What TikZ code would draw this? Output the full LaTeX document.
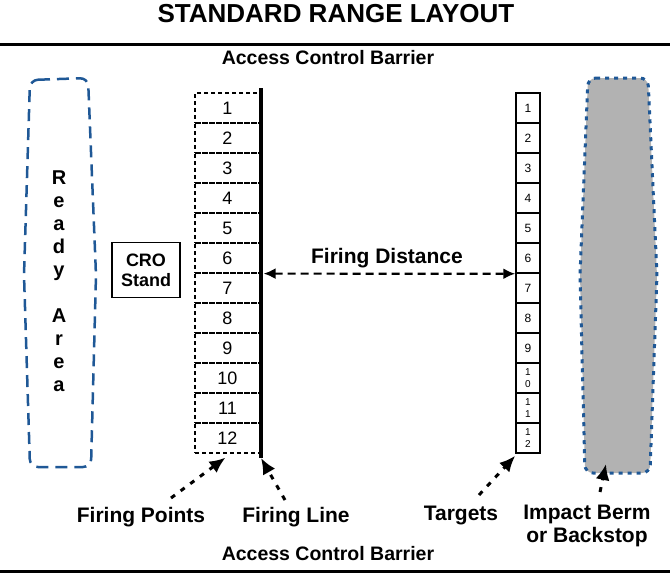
\documentclass[tikz,border=0pt]{standalone}
\usepackage{fontspec}
\setmainfont{Liberation Sans}
\usetikzlibrary{arrows.meta}
\definecolor{areablue}{RGB}{31,88,150}
\tikzset{
  fpbox/.style={draw, dash pattern=on 4pt off 3pt, line width=1.2pt, minimum width=65pt, minimum height=30pt, inner sep=0pt, font=\fontsize{18}{18}\selectfont},
  tgbox/.style={draw, line width=1.5pt, minimum width=24pt, minimum height=30pt, inner sep=0pt, font=\fontsize{12}{12}\selectfont},
  tgsmall/.style={tgbox, align=center, font=\fontsize{10}{11.5}\selectfont},
  labeltext/.style={font=\bfseries\fontsize{21}{23}\selectfont, align=center},
  barrier/.style={font=\bfseries\fontsize{19.5}{20}\selectfont},
  pointer/.style={line width=3pt, dash pattern=on 5pt off 7pt, -{Latex[length=16pt,width=14pt]}},
  distarrow/.style={line width=2.2pt, dash pattern=on 8pt off 5pt, {Latex[length=12pt,width=11pt]}-{Latex[length=12pt,width=11pt]}},
}

\begin{document}
\begin{tikzpicture}[x=1pt, y=-1pt]
    \useasboundingbox (0,0) rectangle (670,574);
    \node[font=\bfseries\fontsize{26}{26}\selectfont] (title) at (336,14){STANDARD RANGE LAYOUT};
    \draw[line width=3pt] (0,44) -- (670,44);
    \draw[line width=3pt] (0,571) -- (670,571);
    \node[barrier] (acbTop) at (328,58){Access Control Barrier};
    \node[barrier] (acbBot) at (328,554){Access Control Barrier};

    % ready area
    \draw[areablue, line width=2.5pt, dash pattern=on 12pt off 7pt, rounded corners=8pt]
        (30,80) -- (88,78) -- (96,275) -- (91,467) -- (30,467) -- (24,275) -- cycle;
    \node[font=\bfseries\fontsize{20}{23}\selectfont, align=center] (ready) at (59,281){R\\e\\a\\d\\y\\[23pt]A\\r\\e\\a};

    % impact berm
    \draw[areablue, fill=black!30, line width=3pt, dash pattern=on 4pt off 5pt, rounded corners=8pt]
        (588,78) -- (648,78) -- (657,275) -- (650,473) -- (585,473) -- (580,275) -- cycle;
    \coordinate (bermBot) at (606,464);

    \node[draw, line width=1.5pt, minimum width=68pt, minimum height=55pt, align=center, font=\bfseries\fontsize{18}{20}\selectfont] (cro) at (146,270){CRO\\Stand};

    % firing points
    \node[fpbox] (fp1) at (227.5,108){1};
    \node[fpbox] (fp2) at (227.5,138){2};
    \node[fpbox] (fp3) at (227.5,168){3};
    \node[fpbox] (fp4) at (227.5,198){4};
    \node[fpbox] (fp5) at (227.5,228){5};
    \node[fpbox] (fp6) at (227.5,258){6};
    \node[fpbox] (fp7) at (227.5,288){7};
    \node[fpbox] (fp8) at (227.5,318){8};
    \node[fpbox] (fp9) at (227.5,348){9};
    \node[fpbox] (fp10) at (227.5,378){10};
    \node[fpbox] (fp11) at (227.5,408){11};
    \node[fpbox] (fp12) at (227.5,438){12};

    % firing line
    \coordinate (flTop) at (261,88);
    \coordinate (flBot) at (261,458);
    \draw[line width=4pt] (flTop) -- (flBot);

    % targets
    \node[tgbox] (tg1) at (528,108){1};
    \node[tgbox] (tg2) at (528,138){2};
    \node[tgbox] (tg3) at (528,168){3};
    \node[tgbox] (tg4) at (528,198){4};
    \node[tgbox] (tg5) at (528,228){5};
    \node[tgbox] (tg6) at (528,258){6};
    \node[tgbox] (tg7) at (528,288){7};
    \node[tgbox] (tg8) at (528,318){8};
    \node[tgbox] (tg9) at (528,348){9};
    \node[tgsmall] (tg10) at (528,378){1\\0};
    \node[tgsmall] (tg11) at (528,408){1\\1};
    \node[tgsmall] (tg12) at (528,438){1\\2};

    % firing distance
    \draw[distarrow] ([xshift=3pt]fp6.south east) -- (tg6.south west);
    \node[font=\bfseries\fontsize{21}{21}\selectfont] (dist) at (387,258){Firing Distance};

    % labels
    \node[labeltext] (fpLab) at (141,517){Firing Points};
    \node[labeltext] (flLab) at (296,517){Firing Line};
    \node[labeltext] (tgLab) at (461,515){Targets};
    \node[labeltext] (bermLab) at (587,526){Impact Berm\\or Backstop};
    \draw[pointer] (171,498) -- ([xshift=-2pt,yshift=-4pt]fp12.south);
    \draw[pointer] (285,500) -- (flBot);
    \draw[pointer] (479,495) -- ([yshift=-2pt]tg12.south west);
    \draw[pointer] (600,492) -- (bermBot);
\end{tikzpicture}
\end{document}
